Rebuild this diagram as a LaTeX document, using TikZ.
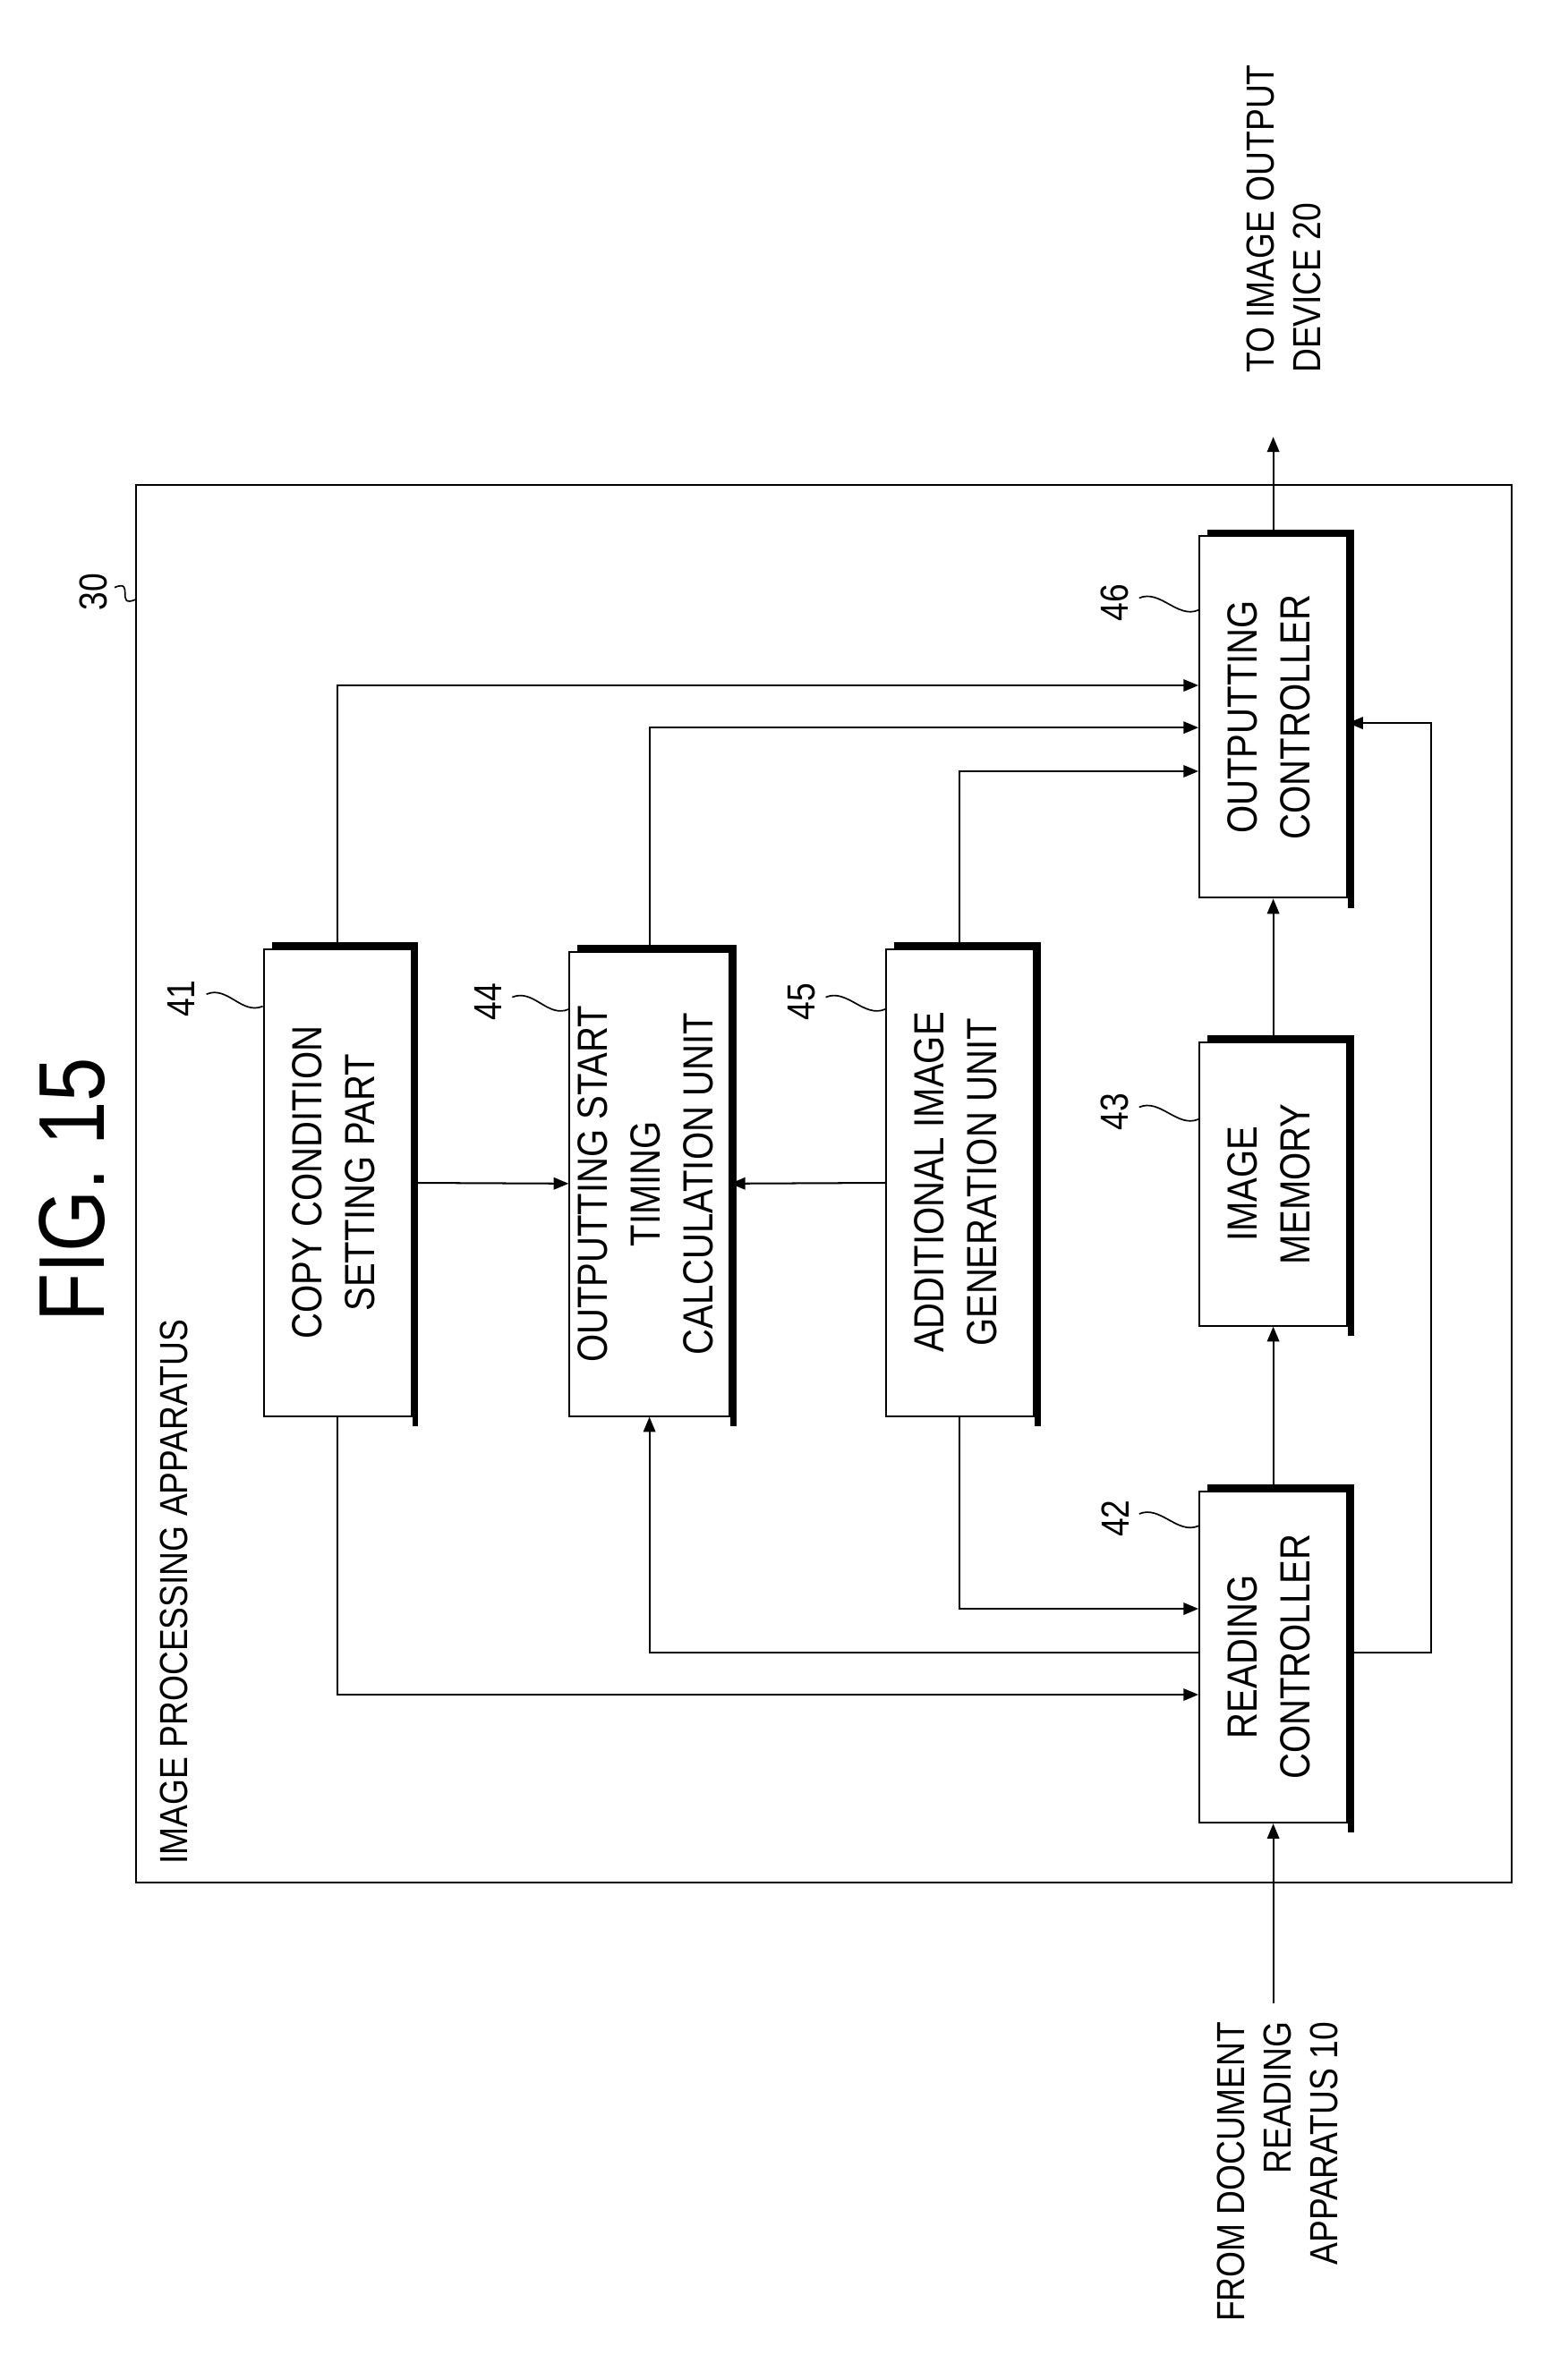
\documentclass[tikz,border=0pt]{standalone}
\usepackage{fontspec}
\setmainfont{Liberation Sans}[FakeStretch=0.85]
\usetikzlibrary{arrows.meta}

\tikzset{
  blk/.style={draw, line width=0.6pt, inner sep=0pt, fill=white},
  arr/.style={line width=0.6pt, -{Triangle[length=5pt,width=4pt]}},
  num/.style={rotate=90, inner sep=0pt, font=\fontsize{13}{13}\selectfont},
  lead/.style={line width=0.5pt, to path={.. controls +(14,-6) and +(-14,6) .. (\tikztotarget)}}
}
\newcommand{\blktext}[1]{\rotatebox{90}{\fontsize{14}{17.5}\selectfont\begin{tabular}{@{}c@{}}#1\end{tabular}}}
\newcommand{\boxshadow}[1]{\draw[line width=2pt] ([xshift=3pt,yshift=1pt]#1.north west) -- ([xshift=1pt,yshift=1pt]#1.north east) -- ([xshift=1pt,yshift=-3pt]#1.south east);}

\begin{document}
\begin{tikzpicture}[x=0.5pt,y=-0.5pt]
  \useasboundingbox (0,0) rectangle (1024,1580);

  % title and frame
  \node[rotate=90, font=\fontsize{31}{31}\selectfont] (title) at (48,790) {FIG. 15};
  \draw[line width=0.6pt] (90,322) rectangle (1003,1250);
  \node[rotate=90, anchor=north west, inner sep=0pt, font=\fontsize{13}{13}\selectfont] (frm) at (106,1238) {IMAGE PROCESSING APPARATUS};

  % blocks
  \node[blk, minimum width=49pt, minimum height=155pt] (b41) at (224,785) {\blktext{COPY CONDITION\\SETTING PART}};
  \node[blk, minimum width=53pt, minimum height=154pt] (b44) at (431,786) {\blktext{OUTPUTTING START\\TIMING\\CALCULATION UNIT}};
  \node[blk, minimum width=49pt, minimum height=155pt] (b45) at (637,785) {\blktext{ADDITIONAL IMAGE\\GENERATION UNIT}};
  \node[blk, minimum width=49pt, minimum height=110pt] (b42) at (845,1100) {\blktext{READING\\CONTROLLER}};
  \node[blk, minimum width=49pt, minimum height=94pt] (b43) at (845,786) {\blktext{IMAGE\\MEMORY}};
  \node[blk, minimum width=49pt, minimum height=120pt] (b46) at (845,476) {\blktext{OUTPUTTING\\CONTROLLER}};
  \foreach \b in {b41,b44,b45,b42,b43,b46} {\boxshadow{\b}}

  % reference numbers
  \node[num] (l30) at (62,393) {30};
  \node[num] (l41) at (120,663) {41};
  \node[num] (l44) at (324,665) {44};
  \node[num] (l45) at (532,665) {45};
  \node[num] (l42) at (740,1008) {42};
  \node[num] (l43) at (740,738) {43};
  \node[num] (l46) at (740,400) {46};
  \draw[lead] (76,390) to (90,398);
  \draw[lead] (137,660) to (b41.west |- 0,668);
  \draw[lead] (340,662) to (b44.west |- 0,670);
  \draw[lead] (548,662) to (b45.west |- 0,670);
  \draw[lead] (756,1005) to (b42.west |- 0,1013);
  \draw[lead] (756,735) to (b43.west |- 0,743);
  \draw[lead] (756,397) to (b46.west |- 0,405);

  % connections
  \draw[arr] (b41) -- (b44);
  \draw[arr] (b45) -- (b44);
  \draw[arr] (b41.north) |- ([yshift=10.5pt]b46.west);
  \draw[arr] (b44.north) |- ([yshift=-3.5pt]b46.west);
  \draw[arr] (b45.north) |- ([yshift=-18pt]b46.west);
  \draw[arr] (b45.south) |- ([yshift=16pt]b42.west);
  \draw[arr] (b41.south) |- ([yshift=-12.5pt]b42.west);
  \draw[arr] ([yshift=1.5pt]b42.west) -| (b44.south);
  \draw[arr] ([yshift=1.5pt]b42.east) -- ++(27.5pt,0) |- ([yshift=-2pt]b46.east);
  \draw[arr] (b42) -- (b43);
  \draw[arr] (b43) -- (b46);

  % input and output
  \coordinate (in) at (845,1330);
  \coordinate (out) at (845,290);
  \draw[arr] (in) -- (b42.south);
  \draw[arr] (b46.north) -- (out);
  \node[rotate=90, anchor=east, align=right, inner sep=0pt, font=\fontsize{13}{15.5}\selectfont] (src) at (848,1342) {FROM DOCUMENT\\READING\\APPARATUS 10};
  \node[rotate=90, anchor=west, align=left, inner sep=0pt, font=\fontsize{13}{15.5}\selectfont] (dst) at (852,248) {TO IMAGE OUTPUT\\DEVICE 20};
\end{tikzpicture}
\end{document}
